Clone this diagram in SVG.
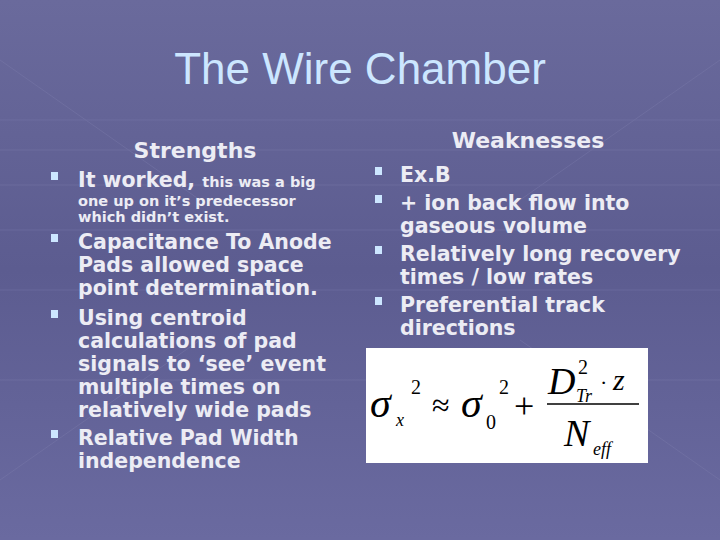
<svg xmlns="http://www.w3.org/2000/svg" width="720" height="540" viewBox="0 0 720 540">
<defs>
<linearGradient id="bg" x1="0" y1="0" x2="0" y2="1">
<stop offset="0" stop-color="#6a6a9c"/><stop offset="0.5" stop-color="#5c5c90"/><stop offset="1" stop-color="#6a6aa0"/>
</linearGradient>
<style>
.t{font-family:"DejaVu Sans","Liberation Sans",Arial,sans-serif;font-weight:bold;fill:#ececf4}
.b{font-size:20.5px}
.s{font-size:14.5px}
.m{font-family:"Liberation Serif","Times New Roman",serif;fill:#000}
.grid{stroke:#8080b0;stroke-width:1;opacity:0.35;fill:none}
</style>
</defs>
<rect width="720" height="540" fill="url(#bg)"/>
<g class="grid">
<path d="M0 120H720M0 150H720M0 185H720M0 230H720M0 290H720M0 380H720"/>
<path d="M0 60L200 200M720 60L520 200M0 480L200 340M720 480L520 340"/>
</g>
<text x="360" y="84" text-anchor="middle" font-family="Liberation Sans,Arial,sans-serif" font-size="44" fill="#cce6ff">The Wire Chamber</text>
<g id="strengths">
<text class="t" x="195" y="158" text-anchor="middle" font-size="22">Strengths</text>
<g fill="#cce6ff"><rect x="51" y="172" width="7" height="8"/><rect x="51" y="234" width="7" height="8"/><rect x="51" y="310" width="7" height="8"/><rect x="51" y="430" width="7" height="8"/></g>
<text class="t b" x="78" y="187">It worked, <tspan class="s">this was a big</tspan></text>
<text class="t s" x="78" y="206">one up on it’s predecessor</text>
<text class="t s" x="78" y="222">which didn’t exist.</text>
<text class="t b" x="78" y="249">Capacitance To Anode</text>
<text class="t b" x="78" y="272">Pads allowed space</text>
<text class="t b" x="78" y="295">point determination.</text>
<text class="t b" x="78" y="325">Using centroid</text>
<text class="t b" x="78" y="348">calculations of pad</text>
<text class="t b" x="78" y="371">signals to  ‘see’ event</text>
<text class="t b" x="78" y="394">multiple times on</text>
<text class="t b" x="78" y="417">relatively wide pads</text>
<text class="t b" x="78" y="445">Relative Pad Width</text>
<text class="t b" x="78" y="468">independence</text>
</g>
<g id="weaknesses">
<text class="t" x="528" y="148" text-anchor="middle" font-size="22">Weaknesses</text>
<g fill="#cce6ff"><rect x="375" y="167" width="7" height="8"/><rect x="375" y="195" width="7" height="8"/><rect x="375" y="246" width="7" height="8"/><rect x="375" y="297" width="7" height="8"/></g>
<text class="t b" x="400" y="182">Ex.B</text>
<text class="t b" x="400" y="210">+ ion back flow into</text>
<text class="t b" x="400" y="233">gaseous volume</text>
<text class="t b" x="400" y="261">Relatively long recovery</text>
<text class="t b" x="400" y="284">times / low rates</text>
<text class="t b" x="400" y="312">Preferential track</text>
<text class="t b" x="400" y="335">directions</text>
</g>
<g id="formula">
<rect x="366" y="348" width="282" height="115" fill="#fff"/>
<text class="m" x="370" y="417" font-size="42" font-style="italic">σ</text>
<text class="m" x="396" y="426" font-size="18" font-style="italic">x</text>
<text class="m" x="411" y="394" font-size="20">2</text>
<text class="m" x="432" y="416" font-size="32">≈</text>
<text class="m" x="461" y="417" font-size="42" font-style="italic">σ</text>
<text class="m" x="486" y="429" font-size="20">0</text>
<text class="m" x="499" y="394" font-size="20">2</text>
<text class="m" x="514" y="418" font-size="36">+</text>
<text class="m" x="548" y="394" font-size="38" font-style="italic">D</text>
<text class="m" x="578" y="374" font-size="20">2</text>
<text class="m" x="576" y="402" font-size="18" font-style="italic">Tr</text>
<text class="m" x="600" y="390" font-size="22">·</text>
<text class="m" x="613" y="390" font-size="30" font-style="italic">z</text>
<line x1="547" y1="404" x2="639" y2="404" stroke="#000" stroke-width="1.5"/>
<text class="m" x="564" y="446" font-size="38" font-style="italic">N</text>
<text class="m" x="593" y="455" font-size="18" font-style="italic">eff</text>
</g>
</svg>
